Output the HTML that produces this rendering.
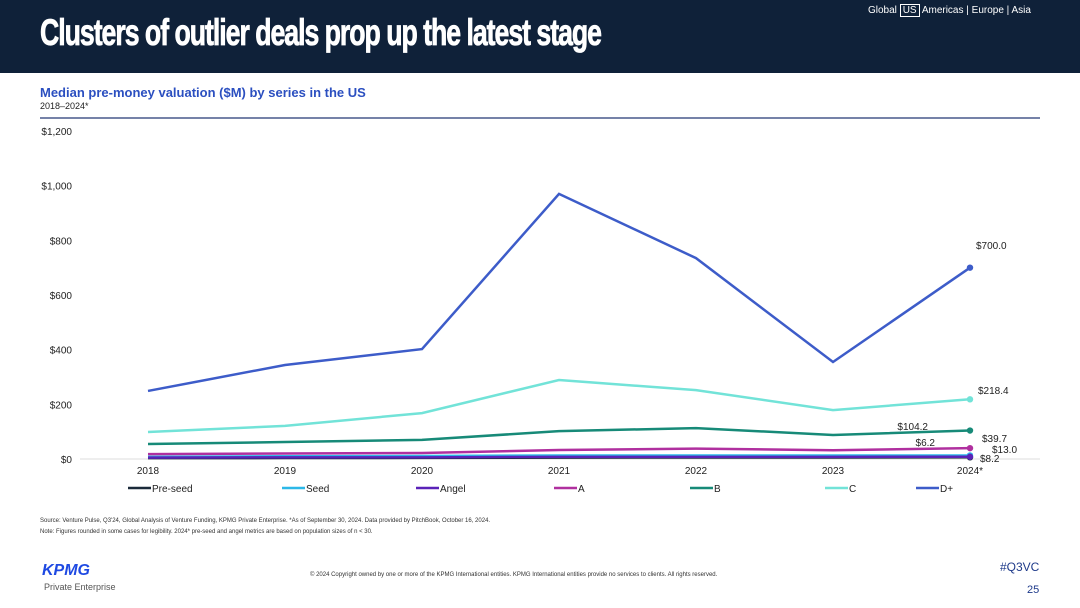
<!DOCTYPE html>
<html><head><meta charset="utf-8"><style>
body{margin:0;width:1080px;height:608px;overflow:hidden;background:#fff;font-family:"Liberation Sans",Arial,sans-serif;position:relative}
.abs{position:absolute}
</style></head><body>
<div class="abs" style="left:0;top:0;width:1080px;height:73px;background:#0f2139"></div>
<div class="abs" style="left:40px;top:12px;color:#fff;font-size:37px;font-weight:bold;letter-spacing:-1.4px;transform:scaleX(0.72);transform-origin:left;white-space:nowrap;-webkit-text-stroke:0.8px #fff">Clusters of outlier deals prop up the latest stage</div>
<div class="abs" style="left:868px;top:5px;color:#fff;font-size:10px">Global <span style="border:1px solid #fff;padding:0 2px">US</span> Americas | Europe | Asia</div>
<div class="abs" style="left:40px;top:85px;color:#2b4fc0;font-size:13px;font-weight:bold">Median pre-money valuation ($M) by series in the US</div>
<div class="abs" style="left:40px;top:101px;color:#222;font-size:9px">2018–2024*</div>
<div class="abs" style="left:40px;top:117px;width:1000px;height:2px;background:#7582a8"></div>
<svg class="abs" style="left:0;top:0" width="1080" height="608" id="chart"></svg>
<div class="abs" style="left:40px;top:516px;font-size:6px;color:#333;line-height:11px">Source: Venture Pulse, Q3'24, Global Analysis of Venture Funding, KPMG Private Enterprise. *As of September 30, 2024. Data provided by PitchBook, October 16, 2024.<br>Note: Figures rounded in some cases for legibility. 2024* pre-seed and angel metrics are based on population sizes of n &lt; 30.</div>
<div class="abs" style="left:42px;top:562px;color:#1e49e2;font-size:16px;font-weight:bold;font-style:italic">KPMG</div>
<div class="abs" style="left:44px;top:582px;color:#555;font-size:9px">Private Enterprise</div>
<div class="abs" style="left:310px;top:572px;font-size:6px;color:#333">© 2024 Copyright owned by one or more of the KPMG International entities. KPMG International entities provide no services to clients. All rights reserved.</div>
<div class="abs" style="left:1000px;top:560px;font-size:12px;color:#1e3a8a">#Q3VC</div>
<div class="abs" style="left:1027px;top:584px;font-size:11px;color:#1e3a8a">25</div>
<script>
const years=["2018","2019","2020","2021","2022","2023","2024*"];
const yTicks=[0,200,400,600,800,1000,1200];
const preseed=[3,3.5,4,5,5.5,5.5,6.2];
const seed=[8,10,11,13,13,13,13.0];
const angel=[5,6,6,8,8,8,8.2];
const seriesA=[18,20,22,33,38,32,39.7];
const seriesB=[55,62,70,102,113,88,104.2];
const seriesC=[99,121,168,289,252,179,218.4];
const seriesD=[249,344,402,970,735,355,700.0];
const names=["Pre-seed","Seed","Angel","A","B","C","D+"];
const colors=["#1b2a3a","#2cb8e8","#5a22b8","#b0309f","#178a78","#72e3d8","#3d5cc9"];
const all=[preseed,seed,angel,seriesA,seriesB,seriesC,seriesD];
const svg=document.getElementById('chart');const NS="http://www.w3.org/2000/svg";
const x=i=>148+i*137, y=v=>459-v*0.27333;
function mk(t,a,p){const e=document.createElementNS(NS,t);for(const k in a)e.setAttribute(k,a[k]);(p||svg).appendChild(e);return e;}
yTicks.forEach(v=>{const t=mk('text',{x:72,y:y(v)+4,'text-anchor':'end','font-size':10,fill:'#222'});t.textContent='$'+v.toLocaleString('en-US');
});
const base=mk('line',{x1:80,x2:1040,y1:459,y2:459,stroke:'#ddd','stroke-width':1});

years.forEach((s,i)=>{const t=mk('text',{x:x(i),y:474,'text-anchor':'middle','font-size':10,fill:'#222'});t.textContent=s;
});
all.forEach((d,k)=>{const p=mk('polyline',{points:d.map((v,i)=>x(i)+','+y(v)).join(' '),fill:'none',stroke:colors[k],'stroke-width':2.5});

const c=mk('circle',{cx:x(6),cy:y(d[6]),r:3.2,fill:colors[k]});
});
const labs=[[seriesD[6],976,249,'start'],[seriesC[6],978,394,'start'],[seriesB[6],928,430,'end'],[seriesA[6],982,442,'start'],[seed[6],992,453,'start'],[preseed[6],935,446,'end'],[angel[6],980,462,'start']];
labs.forEach(l=>{const t=mk('text',{x:l[1],y:l[2],'text-anchor':l[3],'font-size':10,fill:'#222'});t.textContent='$'+l[0].toFixed(1);
});
const lx=[128,282,416,554,690,825,916];
names.forEach((n,k)=>{const g=mk('g',{});
mk('line',{x1:lx[k],x2:lx[k]+23,y1:488,y2:488,stroke:colors[k],'stroke-width':2.5},g);
const t=mk('text',{x:lx[k]+24,y:492,'font-size':10,fill:'#222'},g);t.textContent=n;});
</script>
</body></html>
